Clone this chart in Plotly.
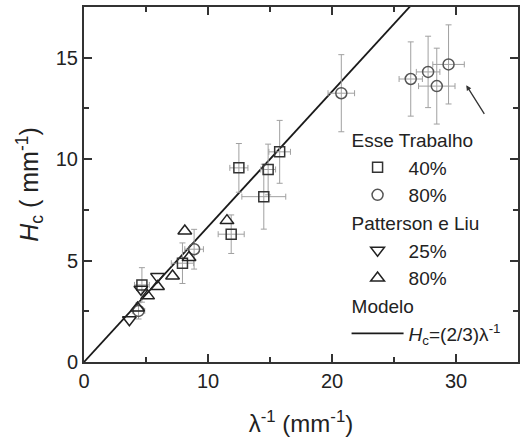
import plotly.graph_objects as go

# Esse Trabalho, 40%
sq40_x = [4.67, 7.94, 11.87, 12.49, 14.50, 14.85, 15.78]
sq40_y = [3.80, 4.87, 6.30, 9.57, 8.15, 9.49, 10.36]
sq40_ex = [0.60, 0.90, 1.05, 0.73, 1.77, 0.60, 0.87]
sq40_ey = [0.85, 1.00, 0.95, 1.20, 1.60, 1.25, 1.55]

# Esse Trabalho, 80%
c80_x = [4.40, 8.88, 20.75, 26.35, 27.75, 28.45, 29.40]
c80_y = [2.52, 5.56, 13.25, 13.95, 14.30, 13.60, 14.67]
c80_ex = [0.50, 0.75, 1.07, 0.94, 0.95, 1.47, 1.27]
c80_ey = [0.40, 0.98, 1.90, 1.83, 1.76, 1.87, 1.95]

# Patterson e Liu, 25%
pl25_x = [3.66, 4.59, 5.93]
pl25_y = [2.08, 3.59, 4.21]

# Patterson e Liu, 80%
pl80_x = [4.32, 5.13, 5.93, 7.14, 8.13, 8.47, 11.53]
pl80_y = [2.66, 3.26, 3.72, 4.24, 6.46, 5.15, 6.97]

# Modelo Hc = (2/3) * lambda^-1
model_slope = 2.0 / 3.0
model_x = [0, 35]
model_y = [model_slope * v for v in model_x]

x_ticks = [0, 10, 20, 30]
y_ticks = [0, 5, 10, 15]

FONT = "Liberation Sans, Arial, sans-serif"
ERRC = "#a0a0a0"

fig = go.Figure()

fig.add_trace(go.Scatter(
    x=model_x, y=model_y, mode="lines",
    line=dict(color="#1a1a1a", width=1.8),
    name="<i>H</i><sub>c</sub>=(2/3)λ<sup>-1</sup>",
    legendgroup="mod", legendgrouptitle=dict(text="Modelo"),
    legendrank=5, hoverinfo="skip"))

fig.add_trace(go.Scatter(
    x=sq40_x, y=sq40_y, mode="markers",
    marker=dict(symbol="square-open", size=10, color="#333333", line=dict(width=1.5)),
    error_x=dict(type="data", array=sq40_ex, color=ERRC, thickness=1, width=3),
    error_y=dict(type="data", array=sq40_ey, color=ERRC, thickness=1, width=3),
    name="40%", legendgroup="esse", legendgrouptitle=dict(text="Esse Trabalho"),
    legendrank=1))

fig.add_trace(go.Scatter(
    x=c80_x, y=c80_y, mode="markers",
    marker=dict(symbol="circle-open", size=11, color="#555555", line=dict(width=1.5)),
    error_x=dict(type="data", array=c80_ex, color=ERRC, thickness=1, width=3),
    error_y=dict(type="data", array=c80_ey, color=ERRC, thickness=1, width=3),
    name="80%", legendgroup="esse", legendrank=2))

fig.add_trace(go.Scatter(
    x=pl25_x, y=pl25_y, mode="markers",
    marker=dict(symbol="triangle-down-open", size=12, color="#222222", line=dict(width=1.5)),
    name="25%", legendgroup="pl", legendgrouptitle=dict(text="Patterson e Liu"),
    legendrank=3))

fig.add_trace(go.Scatter(
    x=pl80_x, y=pl80_y, mode="markers",
    marker=dict(symbol="triangle-up-open", size=12, color="#222222", line=dict(width=1.5)),
    name="80%", legendgroup="pl", legendrank=4))

fig.add_annotation(
    x=30.83, y=13.64, ax=32.36, ay=12.16, xref="x", yref="y", axref="x", ayref="y",
    showarrow=True, arrowhead=2, arrowsize=0.8, arrowwidth=1.3, arrowcolor="#333333", text="")

axis_common = dict(
    showline=True, linecolor="#333333", linewidth=2, mirror="ticks",
    ticks="inside", ticklen=8, tickwidth=1.5, tickcolor="#333333",
    showgrid=False, zeroline=False,
    tickfont=dict(family=FONT, size=20, color="#222222"),
)

fig.update_layout(
    width=521, height=438,
    margin=dict(l=84, r=1, t=7, b=76),
    paper_bgcolor="white", plot_bgcolor="white",
    font=dict(family=FONT, size=20, color="#222222"),
    xaxis=dict(range=[0, 35], tickmode="array", tickvals=x_ticks,
               minor=dict(ticks="inside", ticklen=5, tickwidth=1.5, tickcolor="#333333", dtick=5, tick0=0),
               title=dict(text="λ<sup>-1</sup> (mm<sup>-1</sup>)", font=dict(family=FONT, size=24), standoff=24),
               **axis_common),
    yaxis=dict(range=[0, 17.5], tickmode="array", tickvals=y_ticks,
               minor=dict(ticks="inside", ticklen=5, tickwidth=1.5, tickcolor="#333333", dtick=2.5, tick0=0),
               title=dict(text="<i>H</i><sub>c</sub> ( mm<sup>-1</sup>)", font=dict(family=FONT, size=25), standoff=10),
               **axis_common),
    showlegend=True,
    legend=dict(x=0.605, y=0.68, xanchor="left", yanchor="top",
                bgcolor="rgba(0,0,0,0)", borderwidth=0,
                font=dict(family=FONT, size=19, color="#222222"),
                grouptitlefont=dict(family=FONT, size=19, color="#222222"),
                tracegroupgap=0, traceorder="grouped", itemwidth=52),
)

fig.write_html("out.html")
